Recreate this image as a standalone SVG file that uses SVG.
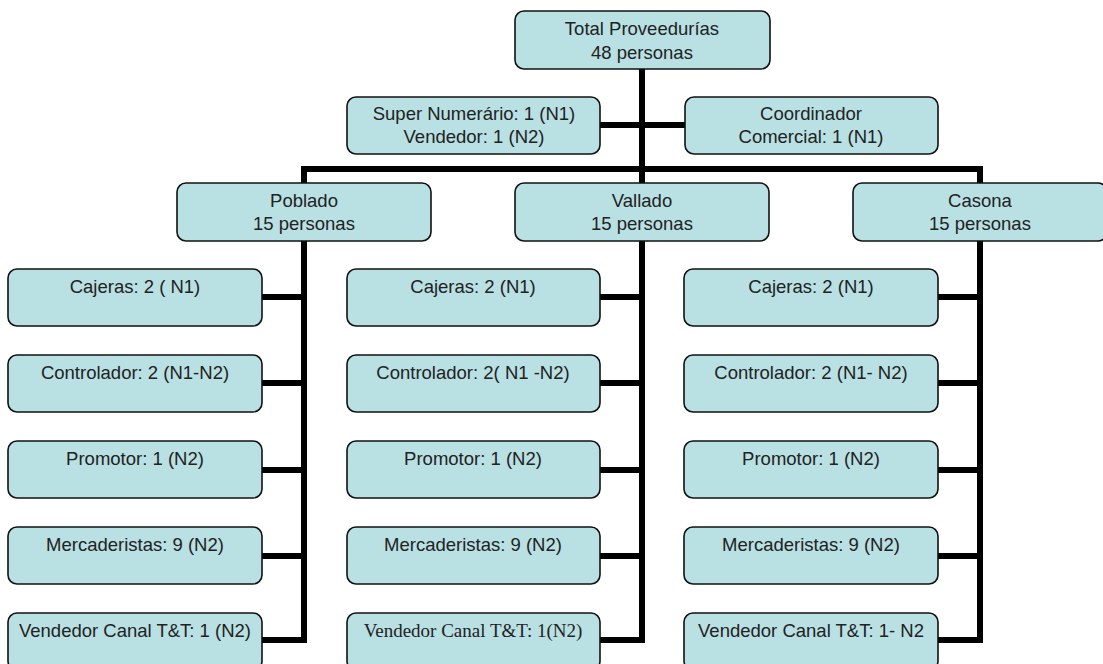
<svg xmlns="http://www.w3.org/2000/svg" width="1103" height="664" viewBox="0 0 1103 664">
<style>
.b{fill:#b9e0e3;stroke:#111;stroke-width:1.6}
.t{font-family:"Liberation Sans",Arial,sans-serif;font-size:18.5px;fill:#222;text-anchor:middle}
.s{font-family:"Liberation Serif","Times New Roman",serif;font-size:19px;fill:#222;text-anchor:middle}
.c{stroke:#000;stroke-width:6;fill:none;stroke-linecap:butt}
</style>
<rect width="1103" height="664" fill="#fff"/>
<g id="connectors" class="c">
<path d="M642 69V183"/>
<path d="M600 125H685"/>
<path d="M304 183V169H980V183"/>
<path d="M304 241V643M642 241V643M980 241V643"/>
<path d="M262 297H304M262 383H304M262 470H304M262 556H304M262 640H304"/>
<path d="M600 297H642M600 383H642M600 470H642M600 556H642M600 640H642"/>
<path d="M938 297H980M938 383H980M938 470H980M938 556H980M938 640H980"/>
</g>
<g id="total"><rect class="b" x="515" y="11" width="255" height="58" rx="9"/><text class="t" x="642" y="35">Total Proveedurías</text><text class="t" x="642" y="59">48 personas</text></g>
<g id="super"><rect class="b" x="347" y="97" width="253" height="57" rx="9"/><text class="t" x="474" y="120">Super Numerário: 1 (N1)</text><text class="t" x="474" y="143">Vendedor: 1 (N2)</text></g>
<g id="coord"><rect class="b" x="685" y="97" width="253" height="57" rx="9"/><text class="t" x="811" y="120">Coordinador</text><text class="t" x="811" y="143">Comercial: 1 (N1)</text></g>
<g id="poblado"><rect class="b" x="177" y="183" width="254" height="58" rx="9"/><text class="t" x="304" y="207">Poblado</text><text class="t" x="304" y="230">15 personas</text></g>
<g id="vallado"><rect class="b" x="515" y="183" width="254" height="58" rx="9"/><text class="t" x="642" y="207">Vallado</text><text class="t" x="642" y="230">15 personas</text></g>
<g id="casona"><rect class="b" x="853" y="183" width="254" height="58" rx="9"/><text class="t" x="980" y="207">Casona</text><text class="t" x="980" y="230">15 personas</text></g>
<g id="p1"><rect class="b" x="8" y="269" width="254" height="57" rx="9"/><text class="t" x="135" y="293">Cajeras: 2 ( N1)</text></g>
<g id="p2"><rect class="b" x="8" y="355" width="254" height="57" rx="9"/><text class="t" x="135" y="379">Controlador: 2 (N1-N2)</text></g>
<g id="p3"><rect class="b" x="8" y="441" width="254" height="57" rx="9"/><text class="t" x="135" y="465">Promotor: 1 (N2)</text></g>
<g id="p4"><rect class="b" x="8" y="527" width="254" height="57" rx="9"/><text class="t" x="135" y="551">Mercaderistas: 9 (N2)</text></g>
<g id="p5"><rect class="b" x="8" y="613" width="254" height="57" rx="9"/><text class="t" x="135" y="637">Vendedor Canal T&amp;T: 1 (N2)</text></g>
<g id="v1"><rect class="b" x="347" y="269" width="253" height="57" rx="9"/><text class="t" x="473" y="293">Cajeras: 2 (N1)</text></g>
<g id="v2"><rect class="b" x="347" y="355" width="253" height="57" rx="9"/><text class="t" x="473" y="379">Controlador: 2( N1 -N2)</text></g>
<g id="v3"><rect class="b" x="347" y="441" width="253" height="57" rx="9"/><text class="t" x="473" y="465">Promotor: 1 (N2)</text></g>
<g id="v4"><rect class="b" x="347" y="527" width="253" height="57" rx="9"/><text class="t" x="473" y="551">Mercaderistas: 9 (N2)</text></g>
<g id="v5"><rect class="b" x="347" y="613" width="253" height="57" rx="9"/><text class="s" x="473" y="637">Vendedor Canal T&amp;T: 1(N2)</text></g>
<g id="c1"><rect class="b" x="684" y="269" width="254" height="57" rx="9"/><text class="t" x="811" y="293">Cajeras: 2 (N1)</text></g>
<g id="c2"><rect class="b" x="684" y="355" width="254" height="57" rx="9"/><text class="t" x="811" y="379">Controlador: 2 (N1- N2)</text></g>
<g id="c3"><rect class="b" x="684" y="441" width="254" height="57" rx="9"/><text class="t" x="811" y="465">Promotor: 1 (N2)</text></g>
<g id="c4"><rect class="b" x="684" y="527" width="254" height="57" rx="9"/><text class="t" x="811" y="551">Mercaderistas: 9 (N2)</text></g>
<g id="c5"><rect class="b" x="684" y="613" width="254" height="57" rx="9"/><text class="t" x="811" y="637">Vendedor Canal T&amp;T: 1- N2</text></g>
</svg>
